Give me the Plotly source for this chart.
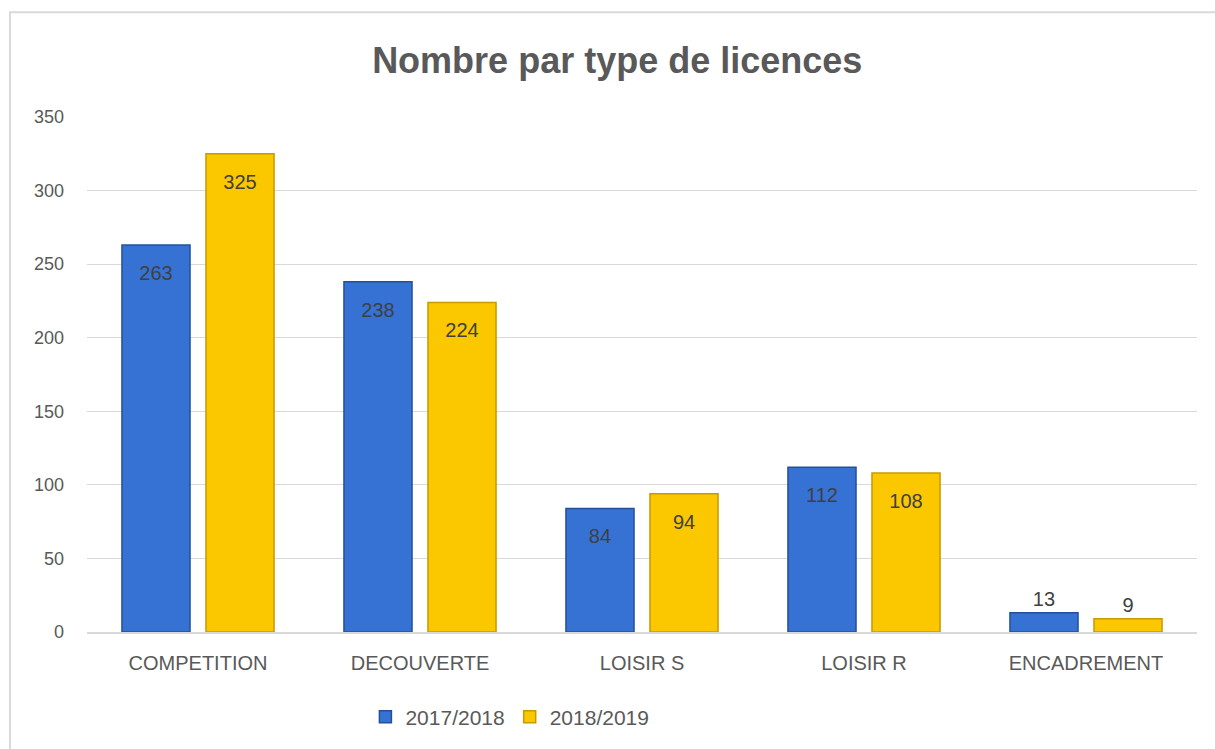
import plotly.graph_objects as go

categories = ['COMPETITION', 'DECOUVERTE', 'LOISIR S', 'LOISIR R', 'ENCADREMENT']
season_1 = [263, 238, 84, 112, 13]
season_2 = [325, 224, 94, 108, 9]
series_names = ['2017/2018', '2018/2019']
y_ticks = [0, 50, 100, 150, 200, 250, 300, 350]

font = 'Liberation Sans'
text_gray = '#595959'
grid_gray = '#d9d9d9'


def label_positions(values):
    # small bars get the label above the bar like Excel does
    return ['inside' if v > 40 else 'outside' for v in values]


def label_texts(values):
    # a small spacer line pushes the inside labels down a bit from the bar top
    return ["<span style='font-size:7px'> </span><br>%d" % v if v > 40 else str(v) for v in values]


fig = go.Figure()

fig.add_trace(go.Bar(
    x=categories, y=season_1, name=series_names[0],
    marker=dict(color='#3672d4', line=dict(color='#24509a', width=1.5)),
    text=label_texts(season_1), textposition=label_positions(season_1),
    insidetextanchor='end', constraintext='none',
    textfont=dict(family=font, size=20, color='#404040'),
    cliponaxis=False,
))
fig.add_trace(go.Bar(
    x=categories, y=season_2, name=series_names[1],
    marker=dict(color='#fbc800', line=dict(color='#c79a00', width=1.5)),
    text=label_texts(season_2), textposition=label_positions(season_2),
    insidetextanchor='end', constraintext='none',
    textfont=dict(family=font, size=20, color='#404040'),
    cliponaxis=False,
))

fig.update_layout(
    width=1215, height=749,
    margin=dict(l=87, r=18, t=117, b=116),
    paper_bgcolor='white', plot_bgcolor='white',
    barmode='group', bargap=0.243, bargroupgap=0.19,
    title=dict(
        text='<b>Nombre par type de licences</b>',
        x=0.508, xanchor='center', y=0.92, yanchor='middle',
        font=dict(family=font, size=36, color=text_gray),
    ),
    legend=dict(
        orientation='h', x=0.381, xanchor='center', y=-0.163, yanchor='middle',
        font=dict(family=font, size=21, color=text_gray),
        itemwidth=30, tracegroupgap=0,
    ),
    uniformtext=dict(mode=False),
    shapes=[dict(
        type='rect', xref='paper', yref='paper',
        x0=-0.0694, x1=1.1, y0=-0.3, y1=1.2035,
        line=dict(color='#d9d9d9', width=2), layer='below',
    )],
)

fig.update_xaxes(
    showline=True, linecolor=grid_gray, linewidth=1.5,
    ticks='', ticklabelstandoff=12,
    tickfont=dict(family=font, size=20, color=text_gray),
)
fig.update_yaxes(
    range=[0, 350], tickvals=y_ticks,
    showgrid=True, gridcolor=grid_gray, gridwidth=1.2,
    zeroline=False, ticks='', ticklabelstandoff=22,
    tickfont=dict(family=font, size=18, color=text_gray),
)

fig.write_html('out.html', config={'displayModeBar': False},
               post_script="document.body.style.margin='0';")
